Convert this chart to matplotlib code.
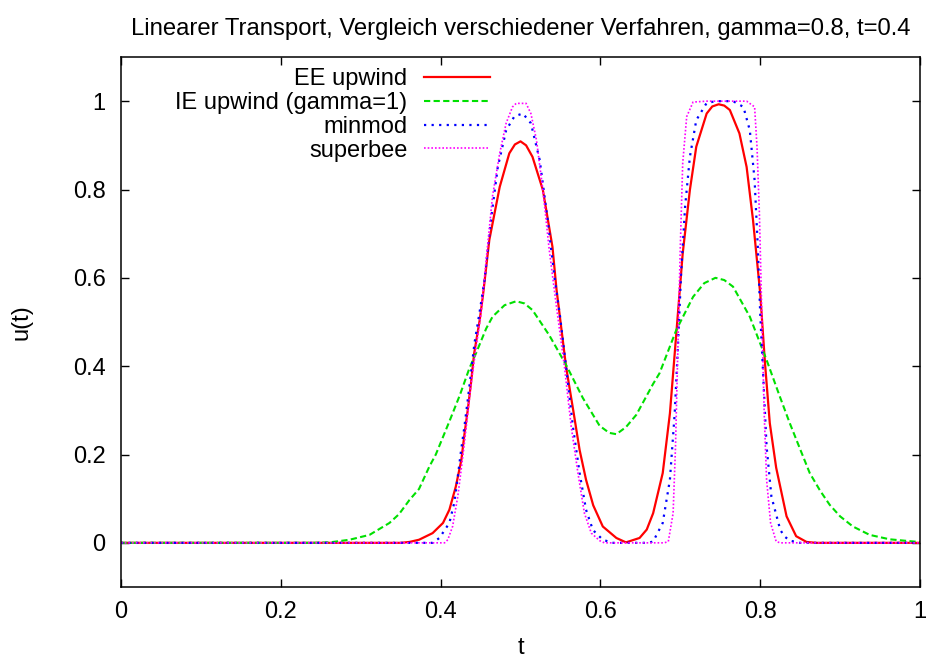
import matplotlib.pyplot as plt
import numpy as np

plt.rcParams['font.family'] = ['Liberation Sans', 'DejaVu Sans']

# EE upwind
t_ee = [0.0, 0.35, 0.361, 0.373, 0.390, 0.403, 0.411, 0.419, 0.426, 0.430, 0.434, 0.438, 0.442,
        0.449, 0.453, 0.461, 0.474, 0.486, 0.493, 0.500, 0.507, 0.515, 0.528, 0.540, 0.545,
        0.557, 0.566, 0.574, 0.582, 0.591, 0.603, 0.620, 0.632, 0.649, 0.658, 0.666, 0.678,
        0.687, 0.695, 0.703, 0.712, 0.720, 0.733, 0.740, 0.748, 0.755, 0.762, 0.774, 0.783,
        0.791, 0.800, 0.806, 0.812, 0.820, 0.833, 0.845, 0.858, 0.870, 1.0]
u_ee = [0.0, 0.0, 0.002, 0.007, 0.022, 0.045, 0.075, 0.127, 0.188, 0.248, 0.301, 0.361, 0.429,
        0.505, 0.560, 0.686, 0.806, 0.882, 0.902, 0.909, 0.900, 0.874, 0.799, 0.670, 0.575,
        0.399, 0.300, 0.210, 0.143, 0.085, 0.037, 0.011, 0.001, 0.011, 0.030, 0.067, 0.158,
        0.293, 0.474, 0.655, 0.799, 0.897, 0.972, 0.988, 0.993, 0.990, 0.980, 0.927, 0.851,
        0.731, 0.565, 0.407, 0.271, 0.170, 0.060, 0.015, 0.002, 0.0, 0.0]

# IE upwind (gamma=1)
t_ie = [0.0, 0.24, 0.261, 0.286, 0.311, 0.336, 0.348, 0.361, 0.373, 0.386, 0.394, 0.411, 0.424,
        0.436, 0.4445, 0.457, 0.465, 0.480, 0.4946, 0.505, 0.515, 0.536, 0.557, 0.578, 0.599,
        0.611, 0.620, 0.632, 0.645, 0.666, 0.674, 0.695, 0.716, 0.730, 0.744, 0.755, 0.766,
        0.787, 0.808, 0.8246, 0.837, 0.850, 0.862, 0.875, 0.887, 0.900, 0.916, 0.937, 0.962,
        0.992, 1.0]
u_ie = [0.0, 0.0, 0.001, 0.007, 0.018, 0.045, 0.065, 0.097, 0.122, 0.173, 0.200, 0.275, 0.334,
        0.395, 0.430, 0.485, 0.512, 0.538, 0.547, 0.542, 0.527, 0.470, 0.403, 0.328, 0.265,
        0.249, 0.246, 0.262, 0.290, 0.360, 0.384, 0.482, 0.557, 0.588, 0.600, 0.595, 0.580,
        0.512, 0.414, 0.331, 0.271, 0.212, 0.158, 0.118, 0.086, 0.060, 0.037, 0.018, 0.008,
        0.003, 0.002]

# minmod
t_mm = [0.0, 0.39, 0.3985, 0.411, 0.417, 0.4215, 0.4257, 0.4298, 0.434, 0.438, 0.4424, 0.4486,
        0.455, 0.463, 0.4716, 0.482, 0.4925, 0.503, 0.513, 0.524, 0.534, 0.543, 0.549, 0.557,
        0.5656, 0.574, 0.582, 0.5906, 0.603, 0.615, 0.66, 0.666, 0.678, 0.687, 0.693, 0.697,
        0.701, 0.706, 0.712, 0.720, 0.733, 0.745, 0.766, 0.779, 0.787, 0.793, 0.797, 0.800,
        0.804, 0.808, 0.814, 0.825, 0.830, 0.837, 0.85, 1.0]
u_mm = [0.0, 0.0, 0.011, 0.045, 0.090, 0.150, 0.210, 0.263, 0.324, 0.384, 0.452, 0.520,
        0.595, 0.731, 0.851, 0.934, 0.966, 0.972, 0.950, 0.867, 0.731, 0.595, 0.520, 0.399,
        0.263, 0.158, 0.075, 0.029, 0.007, 0.0, 0.0, 0.003, 0.045, 0.143, 0.293, 0.444,
        0.610, 0.761, 0.874, 0.957, 0.996, 1.0, 1.0, 0.987, 0.934, 0.821, 0.670, 0.520,
        0.369, 0.218, 0.105, 0.030, 0.015, 0.005, 0.0, 0.0]

# superbee
t_sb = [0.0, 0.405, 0.409, 0.415, 0.4215, 0.4257, 0.4298, 0.434, 0.4382, 0.4445, 0.4507, 0.457,
        0.465, 0.474, 0.482, 0.490, 0.4946, 0.507, 0.513, 0.520, 0.528, 0.536, 0.545, 0.555,
        0.5635, 0.5719, 0.580, 0.5886, 0.599, 0.605, 0.68, 0.685, 0.691, 0.694, 0.697, 0.700,
        0.703, 0.708, 0.716, 0.733, 0.783, 0.793, 0.796, 0.799, 0.801, 0.803, 0.805, 0.808,
        0.813, 0.820, 0.825, 1.0]
u_sb = [0.0, 0.0, 0.007, 0.037, 0.105, 0.165, 0.226, 0.293, 0.361, 0.444, 0.520, 0.640,
        0.785, 0.882, 0.950, 0.987, 0.995, 0.995, 0.972, 0.912, 0.799, 0.663, 0.535, 0.399,
        0.263, 0.158, 0.067, 0.022, 0.005, 0.0, 0.0, 0.003, 0.067, 0.218, 0.444, 0.670,
        0.859, 0.965, 0.998, 1.0, 1.0, 0.987, 0.897, 0.746, 0.595, 0.444, 0.293, 0.143,
        0.045, 0.003, 0.0, 0.0]

x_ticks = [0, 0.2, 0.4, 0.6, 0.8, 1]
y_ticks = [0, 0.2, 0.4, 0.6, 0.8, 1]

fig, ax = plt.subplots(figsize=(9.29, 6.58), dpi=100)
fig.subplots_adjust(left=121 / 929, right=920 / 929, bottom=1 - 587 / 658, top=1 - 57 / 658)

ax.plot(t_ee, u_ee, color='#ff0000', lw=1.6, label='EE upwind')
ax.plot(t_ie, u_ie, color='#00e000', lw=1.5, dashes=(3, 1.6), label='IE upwind (gamma=1)')
ax.plot(t_mm, u_mm, color='#0000ff', lw=1.6, dashes=(1, 2.4), label='minmod')
ax.plot(t_sb, u_sb, color='#ff00ff', lw=1.2, dashes=(1, 1.2), label='superbee')

ax.set_xlim(0, 1)
ax.set_ylim(-0.1, 1.1)
ax.set_xticks(x_ticks)
ax.set_yticks(y_ticks)
ax.set_xticklabels(['%g' % v for v in x_ticks])
ax.set_yticklabels(['%g' % v for v in y_ticks])
ax.tick_params(direction='in', length=6, width=1, top=True, right=True, labelsize=17)
ax.tick_params(axis='x', pad=10)
ax.tick_params(axis='y', pad=11)
for s in ax.spines.values():
    s.set_linewidth(1.1)

ax.set_title('Linearer Transport, Vergleich verschiedener Verfahren, gamma=0.8, t=0.4',
             fontsize=17.2, pad=16)
ax.set_xlabel('t', fontsize=17, labelpad=10)
ax.set_ylabel('u(t)', fontsize=17, labelpad=29)

ax.legend(loc='upper right', bbox_to_anchor=(490 / 929, 1 - 68 / 658),
          bbox_transform=fig.transFigure, frameon=False, markerfirst=False,
          fontsize=17, handlelength=2.8, handletextpad=0.7, labelspacing=0.08,
          borderpad=0, borderaxespad=0)

fig.savefig('out.png', dpi=100)
